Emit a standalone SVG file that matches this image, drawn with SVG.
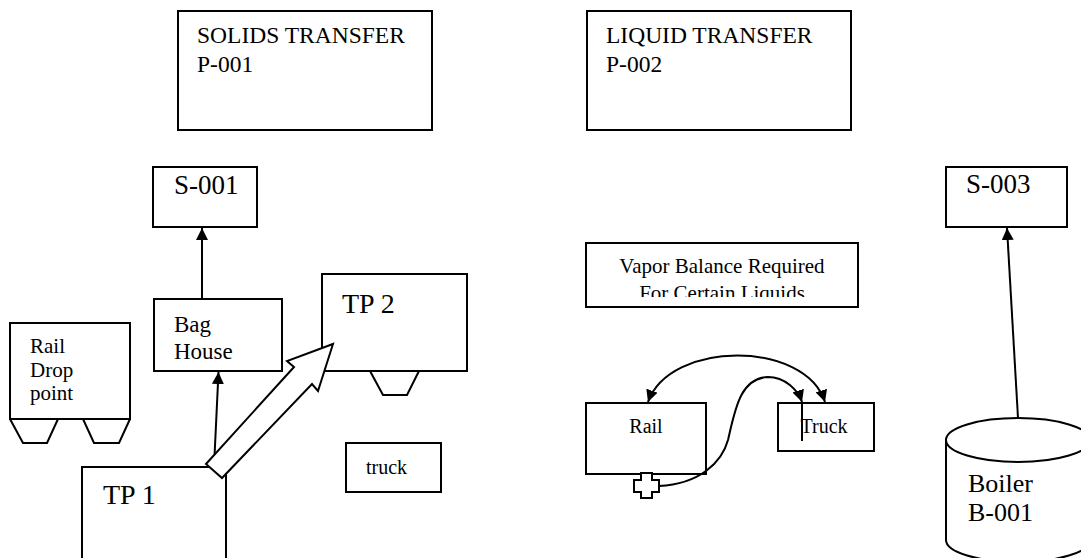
<svg xmlns="http://www.w3.org/2000/svg" width="1081" height="558" viewBox="0 0 1081 558">
<style>
.b{fill:#fff;stroke:#000;stroke-width:2}
.o{fill:none;stroke:#000;stroke-width:2}
.t{font-family:'Liberation Serif','Times New Roman',serif;fill:#000}
</style>
<defs>
<marker id="ah" viewBox="0 0 12 12" markerWidth="12" markerHeight="12" refX="12" refY="6" orient="auto-start-reverse" markerUnits="userSpaceOnUse">
<path d="M0,0 L12,6 L0,12 Z" fill="#000"/>
</marker>
<clipPath id="vclip"><rect x="587" y="244" width="270" height="53"/></clipPath>
</defs>
<rect width="1081" height="558" fill="#fff"/>

<g id="solids-transfer">
<rect class="b" x="178" y="11" width="254" height="119"/>
<text class="t" font-family="Liberation Serif, serif" x="197" y="43" font-size="23.5">SOLIDS TRANSFER</text>
<text class="t" font-family="Liberation Serif, serif" x="197" y="72" font-size="23.5">P-001</text>
</g>

<g id="liquid-transfer">
<rect class="b" x="587" y="11" width="264" height="119"/>
<text class="t" font-family="Liberation Serif, serif" x="606" y="43" font-size="23.5">LIQUID TRANSFER</text>
<text class="t" font-family="Liberation Serif, serif" x="606" y="72" font-size="23.5">P-002</text>
</g>

<g id="s-001">
<rect class="b" x="153" y="167" width="104" height="60"/>
<text class="t" font-family="Liberation Serif, serif" x="174" y="194" font-size="27">S-001</text>
</g>

<g id="s-003">
<rect class="b" x="946" y="167" width="121" height="60"/>
<text class="t" font-family="Liberation Serif, serif" x="966" y="193" font-size="27">S-003</text>
</g>

<g id="bag-house">
<rect class="b" x="154" y="299" width="128" height="72"/>
<text class="t" font-family="Liberation Serif, serif" x="174" y="332" font-size="23">Bag</text>
<text class="t" font-family="Liberation Serif, serif" x="174" y="359" font-size="23">House</text>
</g>

<g id="rail-drop-point">
<rect class="b" x="10" y="323" width="120" height="96"/>
<polyline class="o" points="10,419 23,443 47,443 58,419"/>
<polyline class="o" points="83,419 94,443 119,443 130,419"/>
<text class="t" font-family="Liberation Serif, serif" x="30" y="353" font-size="21">Rail</text>
<text class="t" font-family="Liberation Serif, serif" x="30" y="377" font-size="21">Drop</text>
<text class="t" font-family="Liberation Serif, serif" x="30" y="400" font-size="21">point</text>
</g>

<g id="tp2">
<rect class="b" x="322" y="274" width="145" height="97"/>
<polyline class="o" points="370,371 383,395 407,395 419,371"/>
<text class="t" font-family="Liberation Serif, serif" x="342" y="313" font-size="28">TP 2</text>
</g>

<g id="tp1">
<rect class="b" x="82" y="467" width="144" height="100"/>
<text class="t" font-family="Liberation Serif, serif" x="103" y="504" font-size="28">TP 1</text>
</g>

<g id="truck-solids">
<rect class="b" x="346" y="443" width="95" height="49"/>
<text class="t" font-family="Liberation Serif, serif" x="366" y="474" font-size="20">truck</text>
</g>

<g id="vapor-balance">
<rect class="b" x="586" y="243" width="272" height="64"/>
<g clip-path="url(#vclip)">
<text class="t" font-family="Liberation Serif, serif" x="722" y="273" font-size="21" text-anchor="middle">Vapor Balance Required</text>
<text class="t" font-family="Liberation Serif, serif" x="722" y="300" font-size="21" text-anchor="middle">For Certain Liquids</text>
</g>
</g>

<g id="rail">
<rect class="b" x="586" y="403" width="120" height="71"/>
<text class="t" font-family="Liberation Serif, serif" x="646" y="433" font-size="20" text-anchor="middle">Rail</text>
<polygon class="b" points="641,473 652,473 652,480 659,480 659,492 652,492 652,498 641,498 641,492 634,492 634,480 641,480"/>
</g>

<g id="truck-liquid">
<rect class="b" x="778" y="403" width="96" height="48"/>
<text class="t" font-family="Liberation Serif, serif" x="824" y="433" font-size="20" text-anchor="middle">Truck</text>
</g>

<g id="boiler">
<path class="b" d="M946,440 L946,540 A72,22 0 0 0 1090,540 L1090,440"/>
<ellipse class="b" cx="1018" cy="440" rx="72" ry="22"/>
<text class="t" font-family="Liberation Serif, serif" x="968" y="492" font-size="26">Boiler</text>
<text class="t" font-family="Liberation Serif, serif" x="968" y="521" font-size="26">B-001</text>
</g>

<g id="connectors">
<line class="o" x1="202" y1="299" x2="202" y2="228" marker-end="url(#ah)"/>
<line class="o" x1="214" y1="467" x2="218.5" y2="372" marker-end="url(#ah)"/>
<polygon class="b" points="206,464 294,367 287,361 333,344 318,391 312,384 222,478"/>
<line class="o" x1="1018" y1="418" x2="1007" y2="228" marker-end="url(#ah)"/>
<path class="o" d="M648,402 C670,340 805,340 825,402" marker-start="url(#ah)" marker-end="url(#ah)"/>
<path class="o" d="M659,486 C700,484 722,462 728,440 C735,410 740,378 768,377 C785,377 798,390 802,402" marker-end="url(#ah)"/>
<line class="o" x1="802" y1="402" x2="802" y2="441"/>
</g>
</svg>
